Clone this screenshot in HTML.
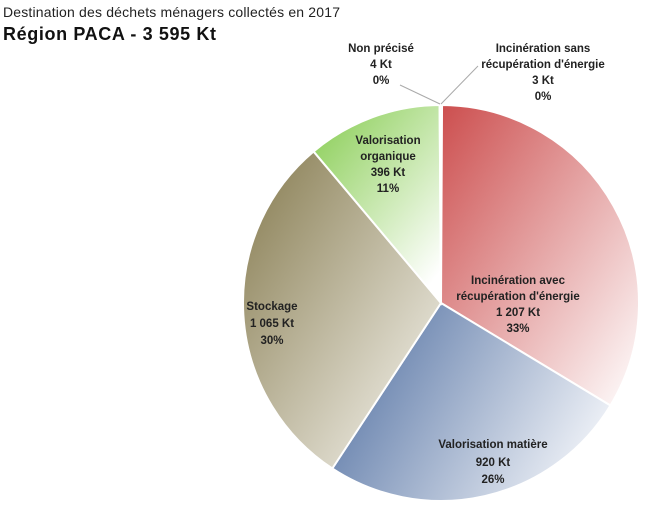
<!DOCTYPE html>
<html><head><meta charset="utf-8"><style>
body{margin:0;background:#fff;}
svg{display:block;font-family:"Liberation Sans",sans-serif;}
.l{font-size:11.5px;font-weight:bold;fill:#222;text-anchor:middle;}
</style></head><body>
<svg width="671" height="530">
<defs>
<linearGradient id="g0" x1="0" y1="0" x2="1" y2="1"><stop offset="0" stop-color="#cc4e4e"/><stop offset="1" stop-color="#ffffff"/></linearGradient>
<linearGradient id="g1" x1="0" y1="0" x2="1" y2="1"><stop offset="0" stop-color="#cc4e4e"/><stop offset="1" stop-color="#ffffff"/></linearGradient>
<linearGradient id="g2" x1="0" y1="0.3" x2="1" y2="0.7"><stop offset="0" stop-color="#5a77a6"/><stop offset="1" stop-color="#f4f6fa"/></linearGradient>
<linearGradient id="g3" x1="0" y1="0" x2="1" y2="1"><stop offset="0" stop-color="#857a4e"/><stop offset="1" stop-color="#fbfaf6"/></linearGradient>
<linearGradient id="g4" x1="0" y1="0" x2="0.8" y2="1"><stop offset="0" stop-color="#86cc50"/><stop offset="1" stop-color="#ffffff"/></linearGradient>
<linearGradient id="g5" x1="0" y1="0" x2="1" y2="1"><stop offset="0" stop-color="#888"/><stop offset="1" stop-color="#ddd"/></linearGradient>
</defs>
<text x="3" y="17" font-size="14" fill="#222" textLength="337">Destination des déchets ménagers collectés en 2017</text>
<text x="3" y="40" font-size="18" font-weight="bold" fill="#111" textLength="213">Région PACA - 3 595 Kt</text>
<g id="slices"></g>
<line x1="400" y1="85" x2="440" y2="104" stroke="#aaa"/>
<line x1="478" y1="66" x2="441" y2="104" stroke="#aaa"/>
<g><text class="l" x="381" y="52">Non précisé</text><text class="l" x="381" y="68">4 Kt</text><text class="l" x="381" y="84">0%</text></g>
<g><text class="l" x="543" y="52">Incinération  sans</text><text class="l" x="543" y="68">récupération d'énergie</text><text class="l" x="543" y="84">3 Kt</text><text class="l" x="543" y="100">0%</text></g>
<g><text class="l" x="518" y="284">Incinération  avec</text><text class="l" x="518" y="300">récupération  d'énergie</text><text class="l" x="518" y="316">1 207 Kt</text><text class="l" x="518" y="332">33%</text></g>
<g><text class="l" x="493" y="448">Valorisation matière</text><text class="l" x="493" y="466">920 Kt</text><text class="l" x="493" y="483">26%</text></g>
<g><text class="l" x="272" y="310">Stockage</text><text class="l" x="272" y="327">1 065 Kt</text><text class="l" x="272" y="344">30%</text></g>
<g><text class="l" x="388" y="144">Valorisation</text><text class="l" x="388" y="160">organique</text><text class="l" x="388" y="176">396 Kt</text><text class="l" x="388" y="192">11%</text></g>
</svg>
<script>
const categories=["Incinération sans récupération d'énergie","Incinération avec récupération d'énergie","Valorisation matière","Stockage","Valorisation organique","Non précisé"];
const values=[3,1207,920,1065,396,4];
const sliceNames=["slice-incineration-sans","slice-incineration-avec","slice-valorisation-matiere","slice-stockage","slice-valorisation-organique","slice-non-precise"];
const cx=441,cy=303,r=198;
const total=values.reduce((a,b)=>a+b,0);
const g=document.getElementById('slices');
let a=0;
values.forEach((v,i)=>{
  const a0=a,a1=a+v/total*2*Math.PI;a=a1;
  const p=t=>[cx+r*Math.sin(t),cy-r*Math.cos(t)];
  const [x0,y0]=p(a0),[x1,y1]=p(a1);
  const large=(a1-a0)>Math.PI?1:0;
  const el=document.createElementNS('http://www.w3.org/2000/svg','path');
  el.setAttribute('d',`M${cx},${cy}L${x0},${y0}A${r},${r} 0 ${large} 1 ${x1},${y1}Z`);
  el.setAttribute('fill',`url(#g${i})`);
  el.setAttribute('stroke','#fff');
  el.setAttribute('stroke-width','2');
  
  
  g.appendChild(el);
});
</script>
</body></html>
